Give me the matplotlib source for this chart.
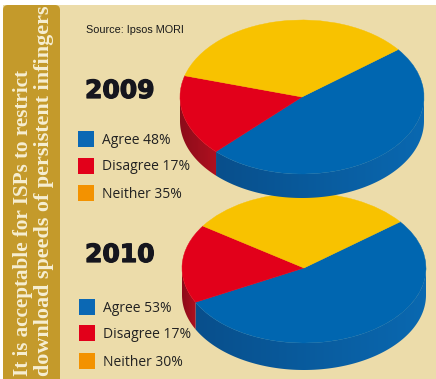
import matplotlib.pyplot as plt
import matplotlib.patheffects as pe
import numpy as np
from matplotlib.colors import LinearSegmentedColormap
from matplotlib.patches import Wedge, Rectangle, FancyBboxPatch, Polygon
from matplotlib.transforms import Affine2D

categories = ['Agree', 'Disagree', 'Neither']
years = ['2009', '2010']
shares_2009 = [48, 17, 35]
shares_2010 = [53, 17, 30]
title_lines = ['It is acceptable for ISPs to restrict',
               'download speeds of persistent infingers']
source = 'Source: Ipsos MORI'

top_colors = ['#0066b0', '#e2001a', '#f8c200']
# side wall shades, dark on the left going lighter to the right
side_colors = [('#084f8c', '#0a68b0'), ('#8c0c1a', '#b01020'), ('#c89a00', '#c89a00')]
legend_colors = ['#0b68b4', '#e2001a', '#f39200']
bg = '#ecdcaa'
band = '#c49a2b'

W, H = 436, 379
fig = plt.figure(figsize=(4.36, 3.79), dpi=100, facecolor='white')
ax = fig.add_axes([0, 0, 1, 1])


def pie3d(shares, cx, cy, rx, ry, depth, start, z):
    # angles run clockwise from start, y is flipped so the ellipse needs care
    tr = Affine2D().scale(rx, ry).translate(cx, cy) + ax.transData
    a = start
    for val, ctop, cside in zip(shares, top_colors, side_colors):
        end = a - val * 3.6
        # side wall, only the front half of the ellipse shows
        t = np.linspace(a, end, 200)
        t = np.radians(t[np.sin(np.radians(t)) <= 0])
        if len(t) > 1:
            xs = cx + rx * np.cos(t)
            ys = cy - ry * np.sin(t)
            pts = np.r_[np.c_[xs, ys], np.c_[xs, ys + depth][::-1]]
            wall = Polygon(pts, fc='none', ec='none', transform=ax.transData)
            ax.add_patch(wall)
            cmap = LinearSegmentedColormap.from_list('side', cside)
            im = ax.imshow(np.linspace(0, 1, 64)[None, :], cmap=cmap, aspect='auto',
                           extent=(xs.min(), xs.max(), ys.max() + depth, ys.min()),
                           zorder=z, interpolation='bilinear')
            im.set_clip_path(wall)
        # top face, wedge angles are mirrored by the inverted y axis
        ax.add_patch(Wedge((0, 0), 1, -a, -end, fc=ctop, ec=ctop, lw=0.3,
                           transform=tr, zorder=z + 1))
        a = end


# background panel and title band
ax.add_patch(Rectangle((3, 5), W, H, fc=bg, ec='none', zorder=0))
ax.add_patch(FancyBboxPatch((3, 5), 57, H + 10, boxstyle='round,pad=0,rounding_size=5',
                            fc=band, ec='none', zorder=1))

pie3d(shares_2010, 304, 268, 122, 75, 27, 38, 2)
pie3d(shares_2009, 302, 97, 122, 77, 24, 38, 4)

for x, line, size in zip([23, 44], title_lines, [15.2, 15.9]):
    ax.text(x, 376, line, rotation=90, ha='center', va='bottom', color='#f6eed2',
            fontsize=size, fontweight='bold', family='Liberation Serif', zorder=6)

ax.text(86, 30, source, fontsize=7.8, family='Liberation Sans', color='#1a1a1a',
        va='center', zorder=6)

year_y = [91, 255]
legend_x = [78, 79]
legend_y = [[139, 166, 193], [307, 333, 361]]
for year, shares, yy, lx, ly in zip(years, [shares_2009, shares_2010], year_y, legend_x, legend_y):
    ax.text(85, yy, year, fontsize=18, fontweight='bold', family='DejaVu Sans',
            color='#16161e', va='center', zorder=6,
            path_effects=[pe.withStroke(linewidth=0.9, foreground='#16161e')])
    for cat, val, col, y in zip(categories, shares, legend_colors, ly):
        ax.add_patch(Rectangle((lx, y - 8), 16, 16, fc=col, ec='none', zorder=6))
        ax.text(lx + 24, y + 1, f'{cat} {val}%', fontsize=10, family='Open Sans',
                color='#222222', va='center', zorder=6)

ax.set_xlim(0, W)
ax.set_ylim(H, 0)
ax.axis('off')
fig.savefig('out.png', dpi=100, facecolor='white')
